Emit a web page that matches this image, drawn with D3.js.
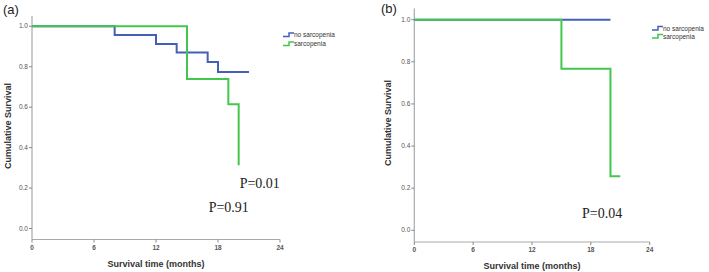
<!DOCTYPE html>
<html>
<head>
<meta charset="utf-8">
<script src="https://cdn.jsdelivr.net/npm/d3@7"></script>
<style>
  body { margin: 0; background: #fff; }
  svg { display: block; }
</style>
</head>
<body>
<div id="chart"></div>
<script>
// axis ticks
var timeTicks = [0, 6, 12, 18, 24];
var survTicks = [0.0, 0.2, 0.4, 0.6, 0.8, 1.0];
var seriesNames = ["no sarcopenia", "sarcopenia"];

// panel (a) step points (time in months, cumulative survival)
var aNoSarcTime = [0, 8, 12, 14, 17, 18, 21];
var aNoSarcSurv = [1.0, 0.957, 0.913, 0.870, 0.823, 0.774, 0.774];
var aSarcTime = [0, 15, 19, 20];
var aSarcSurv = [1.0, 0.739, 0.615, 0.313];

// panel (b)
var bNoSarcTime = [0, 20];
var bNoSarcSurv = [1.0, 1.0];
var bSarcTime = [0, 15, 20, 21];
var bSarcSurv = [1.0, 0.767, 0.257, 0.257];

var colors = ["#4460b6", "#42c64c"];

var svg = d3.select("#chart").append("svg")
  .attr("width", 709)
  .attr("height", 272);

function zip(t, s) {
  return t.map(function(d, i) { return {t: d, s: s[i]}; });
}

function drawPanel(p) {
  var g = svg.append("g");

  var x = d3.scaleLinear().domain([0, 24]).range([p.x0, p.x1]);
  var y = d3.scaleLinear().domain([0, 1]).range([p.y0, p.y1]);

  // axis lines
  g.append("line")
    .attr("x1", p.x0).attr("x2", p.x0)
    .attr("y1", p.yTop).attr("y2", p.xAxisY)
    .attr("stroke", "#aaa").attr("stroke-width", 1.2);
  g.append("line")
    .attr("x1", p.x0).attr("x2", p.x1)
    .attr("y1", p.xAxisY).attr("y2", p.xAxisY)
    .attr("stroke", "#aaa").attr("stroke-width", 1.2);

  // y ticks
  var yt = g.selectAll(".yt").data(survTicks).enter().append("g")
    .attr("transform", function(d) { return "translate(" + p.x0 + "," + y(d) + ")"; });
  yt.append("line").attr("x1", -3).attr("x2", 0).attr("stroke", "#888");
  yt.append("text")
    .attr("x", -4).attr("dy", "0.33em")
    .attr("text-anchor", "end")
    .style("font-family", "Liberation Sans, Arial, sans-serif")
    .style("font-size", "6.5px")
    .attr("fill", "#555")
    .text(function(d) { return d3.format(".1f")(d); });

  // x ticks
  var xt = g.selectAll(".xt").data(timeTicks).enter().append("g")
    .attr("transform", function(d) { return "translate(" + x(d) + "," + p.xAxisY + ")"; });
  xt.append("line").attr("y1", 0).attr("y2", 3).attr("stroke", "#888");
  xt.append("text")
    .attr("y", 10)
    .attr("text-anchor", "middle")
    .style("font-family", "Liberation Sans, Arial, sans-serif")
    .style("font-size", "6.5px")
    .style("font-weight", "bold")
    .attr("fill", "#555")
    .text(function(d) { return d; });

  // axis titles
  g.append("text")
    .attr("x", (p.x0 + p.x1) / 2).attr("y", p.xAxisY + 27)
    .attr("text-anchor", "middle")
    .style("font-family", "Liberation Sans, Arial, sans-serif")
    .style("font-size", "9px")
    .style("font-weight", "bold")
    .attr("fill", "#333")
    .text("Survival time (months)");
  g.append("text")
    .attr("transform", "translate(" + p.yTitleX + "," + p.yTitleY + ") rotate(-90)")
    .attr("text-anchor", "middle")
    .style("font-family", "Liberation Sans, Arial, sans-serif")
    .style("font-size", "9px")
    .style("font-weight", "bold")
    .attr("fill", "#333")
    .text("Cumulative Survival");

  // panel label
  g.append("text")
    .attr("x", p.labelX).attr("y", p.labelY)
    .style("font-family", "Liberation Sans, Arial, sans-serif")
    .style("font-size", "13px")
    .attr("fill", "#222")
    .text(p.label);

  // survival curves
  var line = d3.line()
    .x(function(d) { return x(d.t); })
    .y(function(d) { return y(d.s); })
    .curve(d3.curveStepAfter);

  p.series.forEach(function(s, i) {
    g.append("path")
      .datum(s)
      .attr("fill", "none")
      .attr("stroke", colors[i])
      .attr("stroke-width", 2)
      .attr("d", line);
  });

  // legend
  seriesNames.forEach(function(name, i) {
    var ly = p.legY + i * p.legGap;
    g.append("path")
      .attr("d", "M" + p.legX + "," + (ly + 1.5) + "H" + (p.legX + 6) + "V" + (ly - 2) + "H" + (p.legX + 11))
      .attr("fill", "none")
      .attr("stroke", colors[i])
      .attr("stroke-width", 1.5);
    g.append("text")
      .attr("x", p.legX + 11).attr("y", ly + 2)
      .style("font-family", "Liberation Sans, Arial, sans-serif")
      .style("font-size", "6.5px")
      .attr("fill", "#333")
      .text(name);
  });

  // p values
  p.pvals.forEach(function(pv) {
    g.append("text")
      .attr("x", x(pv.t)).attr("y", y(pv.s))
      .style("font-family", "Liberation Serif, Times New Roman, serif")
      .style("font-size", "14px")
      .attr("fill", "#222")
      .text(pv.text);
  });
}

drawPanel({
  label: "(a)", labelX: 3, labelY: 14,
  x0: 32, x1: 280, y0: 228.5, y1: 26.3, yTop: 16, xAxisY: 239.5,
  yTitleX: 11, yTitleY: 126,
  series: [zip(aNoSarcTime, aNoSarcSurv), zip(aSarcTime, aSarcSurv)],
  legX: 283, legY: 35, legGap: 9,
  pvals: [{t: 20.1, s: 0.2, text: "P=0.01"}, {t: 17.1, s: 0.08, text: "P=0.91"}]
});

drawPanel({
  label: "(b)", labelX: 381, labelY: 13,
  x0: 414.3, x1: 649.7, y0: 230.3, y1: 19.7, yTop: 8.5, xAxisY: 242,
  yTitleX: 391, yTitleY: 123,
  series: [zip(bNoSarcTime, bNoSarcSurv), zip(bSarcTime, bSarcSurv)],
  legX: 652, legY: 28.5, legGap: 8,
  pvals: [{t: 17.1, s: 0.06, text: "P=0.04"}]
});
</script>
</body>
</html>
